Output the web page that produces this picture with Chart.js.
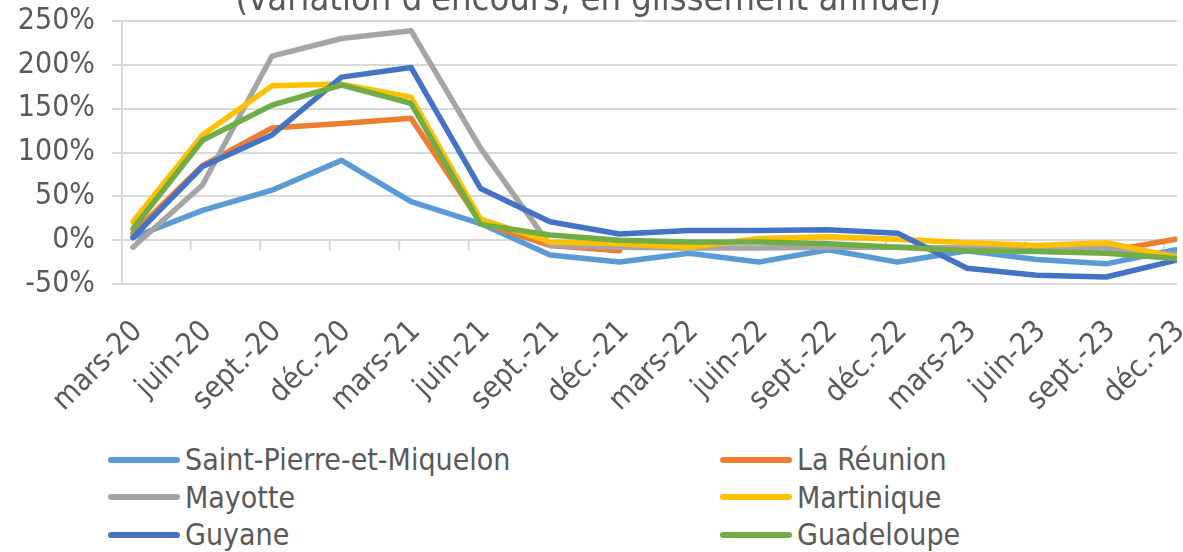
<!DOCTYPE html>
<html lang="fr">
<head>
<meta charset="utf-8">
<script src="https://cdn.jsdelivr.net/npm/chart.js@4.4.1/dist/chart.umd.min.js"></script>
<style>
  html, body { margin: 0; padding: 0; background: #fff; }
  body { width: 1183px; height: 552px; overflow: hidden; position: relative; }
  #wrap { position: absolute; left: 0; top: -27px; width: 1210px; height: 460px; }
  #legend {
    position: absolute; left: 108px; top: 441px;
    display: grid; grid-template-columns: 612px auto; grid-auto-rows: 37.5px;
    font-family: 'DejaVu Sans Condensed', 'DejaVu Sans', sans-serif;
    font-size: 30px; line-height: 37.5px; color: #595959;
  }
  #legend .item { display: flex; align-items: center; white-space: nowrap; }
  #legend .swatch { width: 72px; height: 6px; border-radius: 3px; margin-right: 5px; }
</style>
</head>
<body>
<div id="wrap"><canvas id="chart"></canvas></div>
<div id="legend"></div>

<script>
const labels = ['mars-20', 'juin-20', 'sept.-20', 'déc.-20', 'mars-21', 'juin-21', 'sept.-21', 'déc.-21',
                'mars-22', 'juin-22', 'sept.-22', 'déc.-22', 'mars-23', 'juin-23', 'sept.-23', 'déc.-23'];

// glissement annuel des encours, en %
const saintPierre = [3, 34, 57, 91, 44, 19, -17, -25, -15, -25, -11, -25, -12, -22, -27, -11];
const reunion     = [8, 85, 128, 133, 139, 20, -6, -12, null, null, null, null, null, null, -13, 1];
const mayotte     = [-8, 63, 210, 230, 239, 105, -6, -8, -9, -9, -8, -8, -9, -10, -9, -17];
const martinique  = [21, 120, 176, 178, 163, 24, -2, -4, -8, 2, 4, 1, -3, -6, -3, -19];
const guyane      = [3, 84, 120, 186, 197, 59, 21, 7, 11, 11, 12, 8, -32, -40, -42, -23];
const guadeloupe  = [13, 114, 154, 177, 156, 18, 6, 0, -2, -2, -4, -8, -12, -13, -15, -21];

const yTicks = [-50, 0, 50, 100, 150, 200, 250];

const series = [
  { name: 'Saint-Pierre-et-Miquelon', values: saintPierre, color: '#5B9BD5' },
  { name: 'La Réunion', values: reunion, color: '#ED7D31' },
  { name: 'Mayotte', values: mayotte, color: '#A5A5A5' },
  { name: 'Martinique', values: martinique, color: '#FFC000' },
  { name: 'Guyane', values: guyane, color: '#4472C4' },
  { name: 'Guadeloupe', values: guadeloupe, color: '#70AD47' }
];

const FONT = "'DejaVu Sans Condensed', 'DejaVu Sans', sans-serif";
const TEXT = '#595959';
const GRID = '#d9d9d9';

// petites graduations de l'axe horizontal, posées sur la ligne 0 %
const zeroTicks = {
  id: 'zeroTicks',
  beforeDatasetsDraw(chart) {
    const { ctx, scales: { x, y } } = chart;
    const y0 = y.getPixelForValue(0);
    ctx.save();
    ctx.strokeStyle = GRID;
    ctx.lineWidth = 2;
    for (let i = 1; i < labels.length; i++) {
      const px = x.getPixelForValue(i - 0.17);
      ctx.beginPath();
      ctx.moveTo(px, y0);
      ctx.lineTo(px, y0 + 10);
      ctx.stroke();
    }
    ctx.restore();
  }
};

const chart = new Chart(document.getElementById('chart'), {
  type: 'line',
  data: {
    datasets: series.map((s, i) => ({
      label: s.name,
      data: s.values.map((v, j) => ({ x: j, y: v })),
      borderColor: s.color,
      backgroundColor: s.color,
      borderWidth: 5.5,
      borderCapStyle: 'round',
      borderJoinStyle: 'round',
      pointRadius: 0,
      tension: 0,
      spanGaps: false,
      order: series.length - 1 - i   // la dernière série passe au-dessus, comme dans Excel
    }))
  },
  options: {
    responsive: true,
    maintainAspectRatio: false,
    animation: false,
    layout: { padding: { left: 0, right: 33, top: 0, bottom: 0 } },
    plugins: {
      legend: { display: false },
      tooltip: { enabled: false },
      title: {
        display: true,
        text: "(variation d'encours, en glissement annuel)",
        color: TEXT,
        font: { family: FONT, size: 36, lineHeight: 1, weight: 'normal' },
        padding: { top: 10, bottom: 2 }
      }
    },
    scales: {
      x: {
        type: 'linear',
        min: -0.158,
        max: 15.02,
        grid: { display: false },
        border: { display: false },
        ticks: {
          autoSkip: false,
          minRotation: 45,
          maxRotation: 45,
          padding: 22,
          color: TEXT,
          font: { family: FONT, size: 30 },
          callback: (v, idx) => labels[idx]
        },
        // étiquettes légèrement décalées vers la droite, comme dans l'original
        afterBuildTicks: axis => { axis.ticks = labels.map((_, i) => ({ value: i + 0.07 })); },
        afterFit: axis => { axis.paddingLeft = 0; axis.paddingRight = 0; axis.height = 149; }
      },
      y: {
        min: -50,
        max: 250,
        afterBuildTicks: axis => { axis.ticks = yTicks.map(v => ({ value: v })); },
        grid: { color: GRID, lineWidth: 2, tickLength: 10, drawTicks: true },
        border: { display: true, color: GRID, width: 2 },
        ticks: {
          padding: 17,
          color: TEXT,
          font: { family: FONT, size: 30 },
          callback: v => v + '%'
        },
        afterFit: axis => { axis.width = 122; }
      }
    }
  },
  plugins: [zeroTicks]
});

// légende sur deux colonnes, comme dans l'original
const legendEl = document.getElementById('legend');
series.forEach(s => {
  const item = document.createElement('div');
  item.className = 'item';
  const sw = document.createElement('span');
  sw.className = 'swatch';
  sw.style.background = s.color;
  const txt = document.createElement('span');
  txt.textContent = s.name;
  item.appendChild(sw);
  item.appendChild(txt);
  legendEl.appendChild(item);
});
</script>
</body>
</html>
